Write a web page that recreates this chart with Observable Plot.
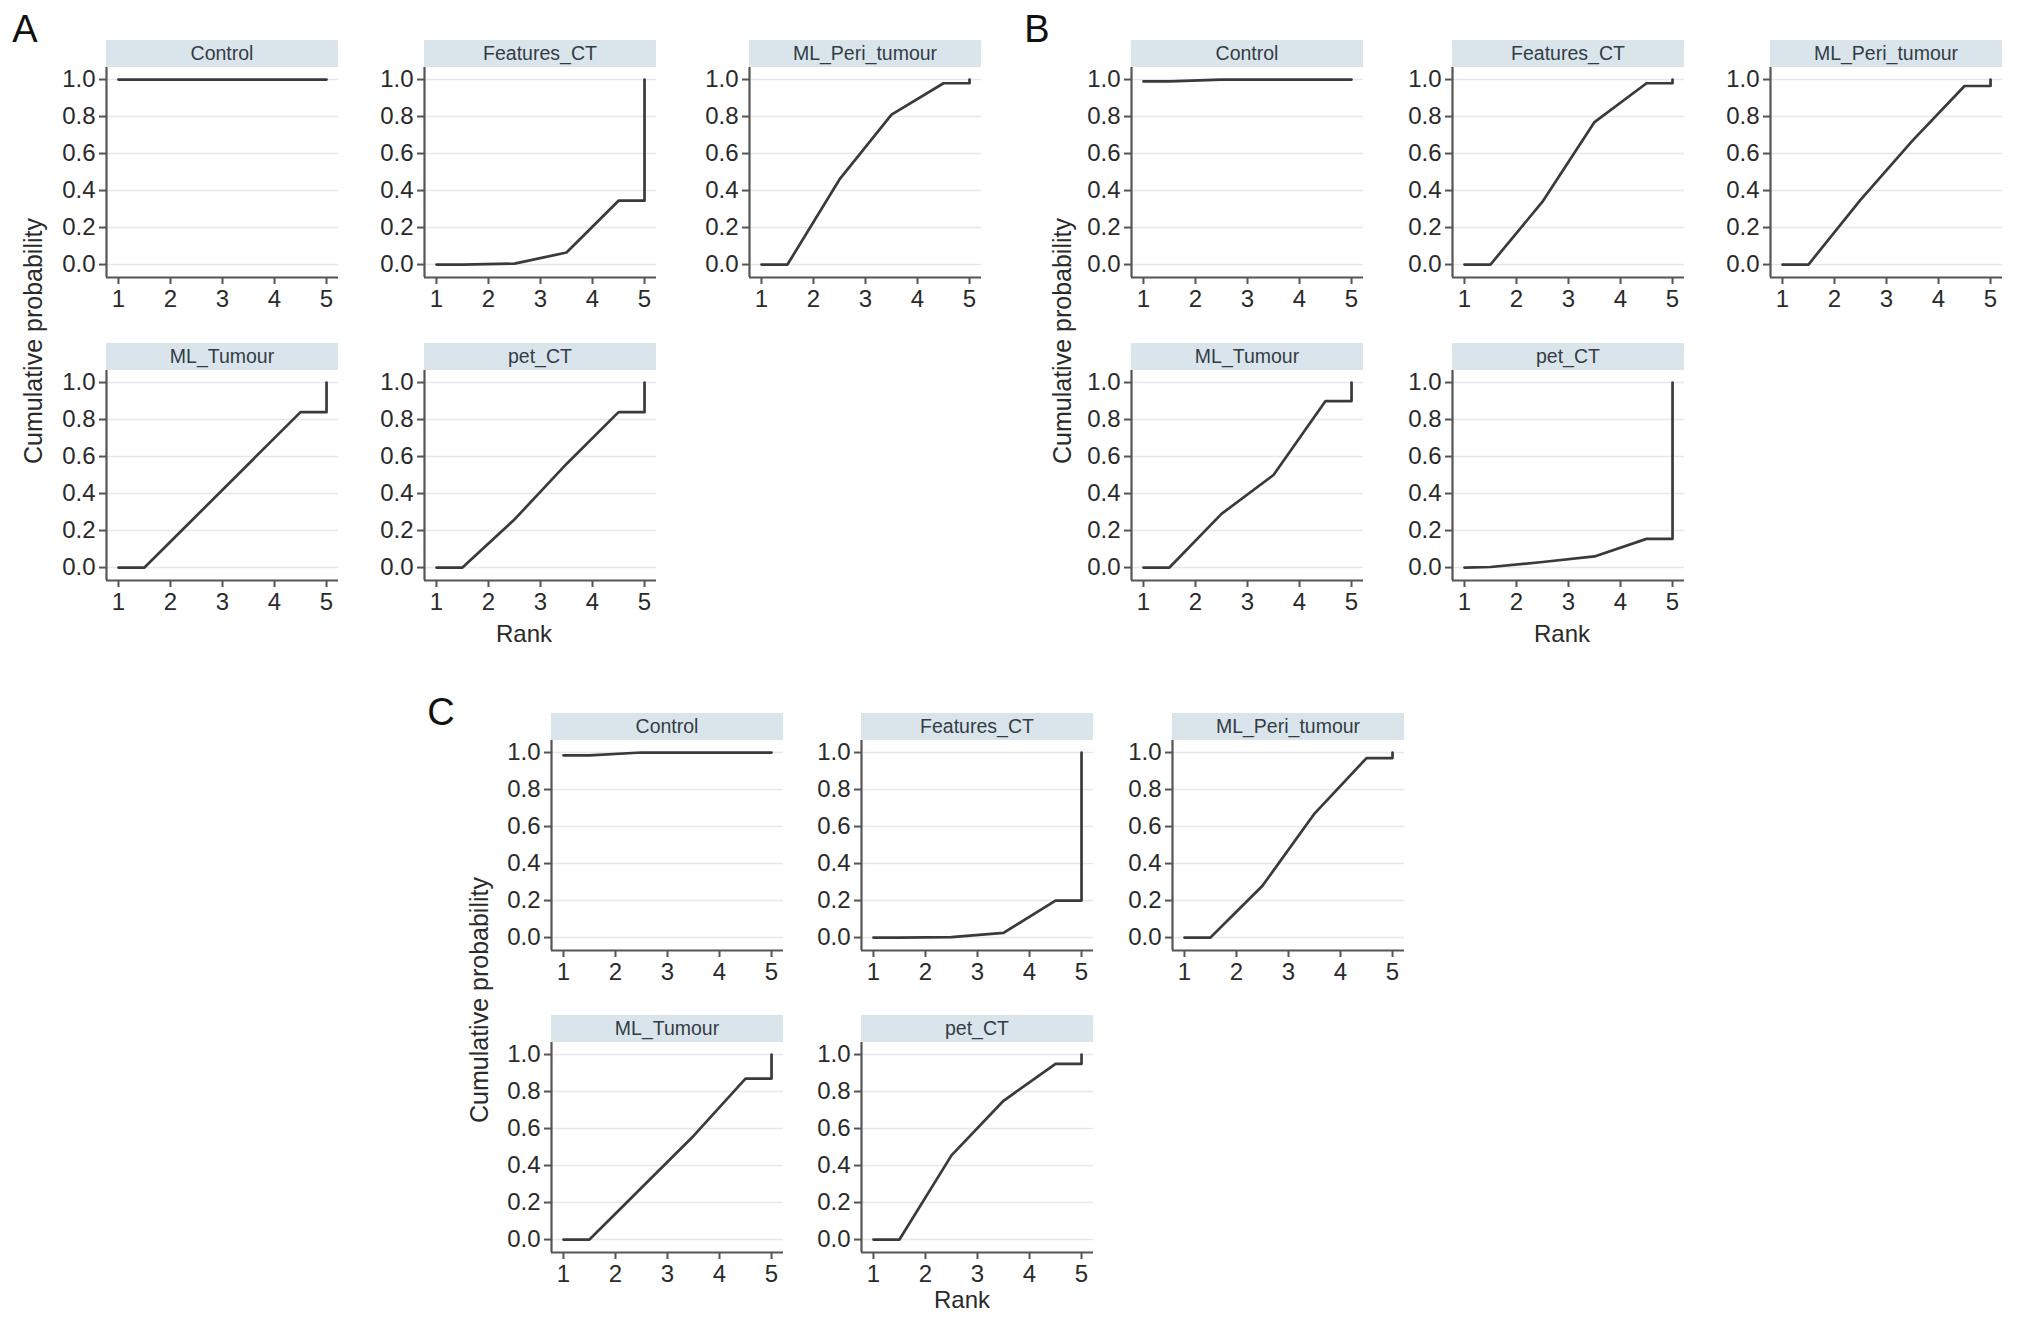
<!DOCTYPE html>
<html>
<head>
<meta charset="utf-8">
<script src="https://cdn.jsdelivr.net/npm/d3@7"></script>
<script src="https://cdn.jsdelivr.net/npm/@observablehq/plot@0.6"></script>
<style>
  html, body { margin: 0; padding: 0; background: #ffffff; }
  #page { position: relative; width: 2032px; height: 1321px; overflow: hidden; background: #ffffff;
          font-family: "Liberation Sans", Arial, Helvetica, sans-serif; color: #222; }
  .strip { position: absolute; background: #dae5eb; color: #333c45; font-size: 19.5px;
           display: flex; align-items: center; justify-content: center; white-space: nowrap; }
  .lbl { position: absolute; transform: translate(-50%, -50%); white-space: nowrap; color: #2a2a2a; }
  .ylab { position: absolute; transform: translate(-50%, -50%) rotate(-90deg); white-space: nowrap; color: #2a2a2a; font-size: 25px; }
  .panelsvg { position: absolute; }
</style>
</head>
<body>
<div id="page"></div>
<script>
// ---------------- DATA ----------------
const treatments = ["Control", "Features_CT", "ML_Peri_tumour", "ML_Tumour", "pet_CT"];
const panelLetters = ["A", "B", "C"];
const rankKnots = [1, 1.5, 2.5, 3.5, 4.5, 5, 5];
const xTicks = [1, 2, 3, 4, 5];
const yTicks = [0, 0.2, 0.4, 0.6, 0.8, 1.0];
const xAxisTitle = "Rank";
const yAxisTitle = "Cumulative probability";

// Cumulative probability at each rank knot
const A_Control        = [1, 1, 1, 1, 1, 1, 1];
const A_Features_CT    = [0, 0, 0.005, 0.065, 0.345, 0.345, 1];
const A_ML_Peri_tumour = [0, 0, 0.46, 0.81, 0.98, 0.98, 1];
const A_ML_Tumour      = [0, 0, 0.28, 0.56, 0.84, 0.84, 1];
const A_pet_CT         = [0, 0, 0.26, 0.56, 0.84, 0.84, 1];

const B_Control        = [0.99, 0.99, 1, 1, 1, 1, 1];
const B_Features_CT    = [0, 0, 0.34, 0.77, 0.98, 0.98, 1];
const B_ML_Peri_tumour = [0, 0, 0.35, 0.67, 0.965, 0.965, 1];
const B_ML_Tumour      = [0, 0, 0.29, 0.50, 0.90, 0.90, 1];
const B_pet_CT         = [0, 0.003, 0.03, 0.06, 0.155, 0.155, 1];

const C_Control        = [0.985, 0.985, 1, 1, 1, 1, 1];
const C_Features_CT    = [0, 0, 0.002, 0.025, 0.20, 0.20, 1];
const C_ML_Peri_tumour = [0, 0, 0.28, 0.67, 0.97, 0.97, 1];
const C_ML_Tumour      = [0, 0, 0.28, 0.56, 0.87, 0.87, 1];
const C_pet_CT         = [0, 0, 0.455, 0.75, 0.95, 0.95, 1];

const seriesByPanel = {
  A: [A_Control, A_Features_CT, A_ML_Peri_tumour, A_ML_Tumour, A_pet_CT],
  B: [B_Control, B_Features_CT, B_ML_Peri_tumour, B_ML_Tumour, B_pet_CT],
  C: [C_Control, C_Features_CT, C_ML_Peri_tumour, C_ML_Tumour, C_pet_CT]
};

// ---------------- LAYOUT ----------------
const page = document.getElementById("page");
const stripW = 232, stripH = 27, plotH = 210;
const mL = 70, mR = 6, mB = 50;
const xDomain = [0.77, 5.23];
const yDomain = [-0.07, 1.065];

const groupLayout = {
  A: { cols: [106, 424, 749], rows: [40, 343], letter: [25, 29], ylab: [33, 341], rank: [524, 634] },
  B: { cols: [1131, 1452, 1770], rows: [40, 343], letter: [1037, 29], ylab: [1062, 341], rank: [1562, 634] },
  C: { cols: [551, 861, 1172], rows: [713, 1015], letter: [441, 712], ylab: [479, 1000], rank: [962, 1300] }
};

function addDiv(cls, text, x, y, extra) {
  const d = document.createElement("div");
  d.className = cls;
  d.textContent = text;
  d.style.left = x + "px";
  d.style.top = y + "px";
  if (extra) Object.assign(d.style, extra);
  page.appendChild(d);
  return d;
}

function panel(values, name, left, top) {
  addDiv("strip", name, left, top, { width: stripW + "px", height: stripH + "px" });
  const data = rankKnots.map((r, i) => ({ rank: r, p: values[i] }));
  const chart = Plot.plot({
    width: mL + stripW + mR,
    height: plotH + mB,
    marginLeft: mL, marginRight: mR, marginTop: 0, marginBottom: mB,
    x: { domain: xDomain },
    y: { domain: yDomain },
    style: { fontSize: "24px", fontFamily: "Liberation Sans, Arial, sans-serif", color: "#2a2a2a", background: "transparent", overflow: "visible" },
    marks: [
      Plot.gridY(yTicks, { stroke: "#e8e8e8", strokeOpacity: 1, strokeWidth: 1.5 }),
      Plot.axisY(yTicks, { tickFormat: d3.format(".1f"), tickSize: 7, tickPadding: 4, stroke: "#555", strokeWidth: 2, label: null }),
      Plot.axisX(xTicks, { tickFormat: d3.format("d"), tickSize: 7, tickPadding: 5, stroke: "#555", strokeWidth: 2, label: null }),
      Plot.ruleX([xDomain[0]], { stroke: "#555", strokeWidth: 2.2 }),
      Plot.ruleY([yDomain[0]], { stroke: "#555", strokeWidth: 2.2 }),
      Plot.line(data, { x: "rank", y: "p", stroke: "#3a3a3a", strokeWidth: 2.7 })
    ]
  });
  chart.classList.add("panelsvg");
  chart.style.left = (left - mL) + "px";
  chart.style.top = (top + stripH) + "px";
  page.appendChild(chart);
}

for (const g of panelLetters) {
  const L = groupLayout[g];
  treatments.forEach((t, i) => {
    const row = Math.floor(i / 3), col = i % 3;
    panel(seriesByPanel[g][i], t, L.cols[col], L.rows[row]);
  });
  addDiv("lbl", g, L.letter[0], L.letter[1], { fontSize: "38px", color: "#111" });
  addDiv("ylab", yAxisTitle, L.ylab[0], L.ylab[1]);
  addDiv("lbl", xAxisTitle, L.rank[0], L.rank[1], { fontSize: "24px" });
}
</script>
</body>
</html>
